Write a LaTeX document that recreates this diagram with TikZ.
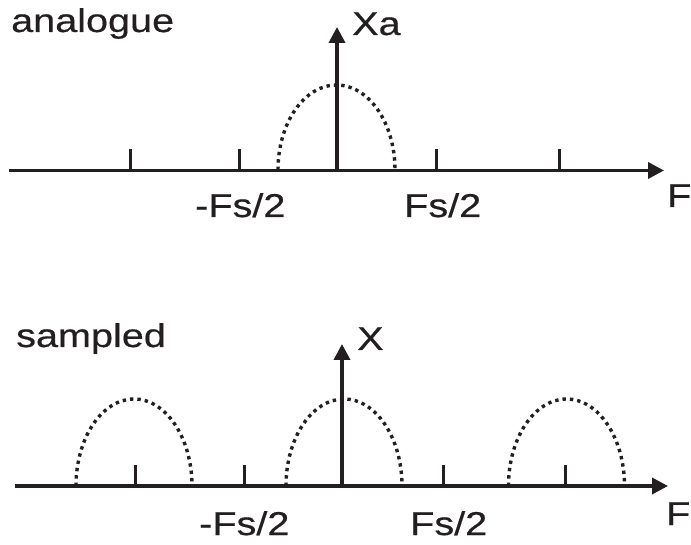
\documentclass[tikz,border=0pt]{standalone}
\usepackage{fontspec}
\setmainfont{Liberation Sans}
\newfontfamily\lblfont[FakeStretch=1.2,FakeBold=0.5]{Liberation Sans}
\usetikzlibrary{arrows.meta}
\definecolor{ink}{RGB}{35,31,32}
\begin{document}
\begin{tikzpicture}[x=1pt,y=-1pt,
  axis/.style={draw=ink, line width=3.6pt, -{Triangle[length=16pt,width=16pt]}},
  tickmark/.style={draw=ink, line width=3pt},
  hump/.style={draw=ink, line width=3.4pt, dash pattern=on 3.4pt off 4pt},
  lbl/.style={inner sep=0pt, anchor=base west, text=ink, font=\lblfont\fontsize{33}{33}\selectfont}]
\useasboundingbox (0,0) rectangle (691,545);

% ---------- top panel (analogue) ----------
\coordinate (a0) at (8.5,170.5);
\coordinate (a1) at (664,170.5);
\coordinate (v0) at (337,170.5);
\coordinate (v1) at (337,27);
\draw[hump] (278,170) arc[start angle=180,end angle=360,x radius=58.5,y radius=85];
\foreach \x/\n in {130/t1,239/t2,436/t3,559/t4}{
  \coordinate (\n b) at (\x,170.5);
  \coordinate (\n t) at (\x,149);
  \draw[tickmark] (\n b) -- (\n t);
}
\draw[axis] (a0) -- (a1);
\draw[axis] (v0) -- (v1);
\node[lbl] (analogue) at (11,32) {analogue};
\node[lbl] (xa) at (352,35) {Xa};
\node[lbl] (mfs1) at (195,217) {-Fs/2};
\node[lbl] (fs1) at (404,217) {Fs/2};
\node[lbl] (f1) at (667,207) {F};

% ---------- bottom panel (sampled) ----------
\coordinate (b0) at (15,486);
\coordinate (b1) at (668,486);
\coordinate (w0) at (342,486);
\coordinate (w1) at (342,344);
\foreach \c in {134,344,566.5}{
  \draw[hump] (\c-58,486) arc[start angle=180,end angle=360,x radius=58,y radius=87];
}
\foreach \x/\n in {135/s1,244.5/s2,443/s3,565/s4}{
  \coordinate (\n b) at (\x,486);
  \coordinate (\n t) at (\x,465);
  \draw[tickmark] (\n b) -- (\n t);
}
\draw[axis] (b0) -- (b1);
\draw[axis] (w0) -- (w1);
\node[lbl] (sampled) at (16,347) {sampled};
\node[lbl] (x) at (357,350) {X};
\node[lbl] (mfs2) at (199,535) {-Fs/2};
\node[lbl] (fs2) at (410,535) {Fs/2};
\node[lbl] (f2) at (666,525) {F};
\end{tikzpicture}
\end{document}
